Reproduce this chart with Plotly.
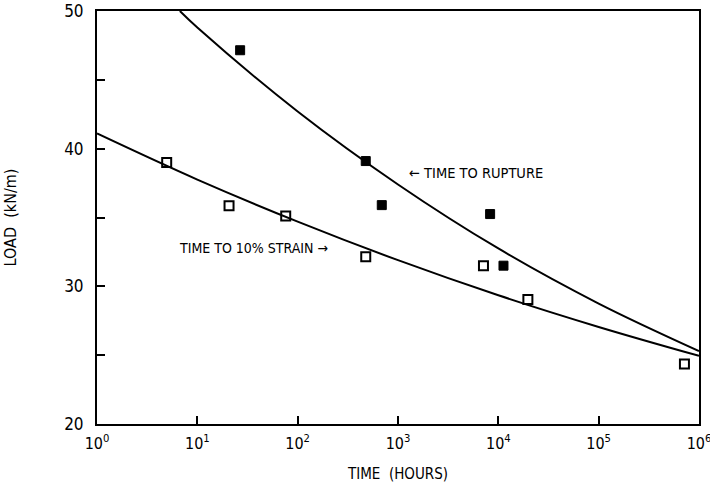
import plotly.graph_objects as go

# Creep test results: time (hours) vs. load (kN/m)
strain_time = [4.95, 20.7, 76, 477, 7110, 19700, 716000]
strain_load = [39.0, 35.85, 35.1, 32.15, 31.5, 29.05, 24.35]

rupture_time = [26.7, 477, 689, 8280, 11250]
rupture_load = [47.15, 39.1, 35.9, 35.25, 31.5]

# Fitted trend lines, sampled at each decade
strain_fit_time = [1, 10, 100, 1000, 1e4, 1e5, 1e6]
strain_fit_load = [41.1, 37.75, 34.7, 31.9, 29.35, 27.05, 24.95]

rupture_fit_time = [6.7, 10, 100, 1000, 1e4, 1e5, 1e6]
rupture_fit_load = [50.0, 48.8, 42.7, 37.4, 32.75, 28.75, 25.3]

x_tickvals = [1, 10, 100, 1000, 1e4, 1e5, 1e6]
x_ticktext = ["10<sup>%d</sup>" % k for k in range(7)]
y_tickvals = [20, 30, 40, 50]

FONT = "DejaVu Sans Condensed, Liberation Sans Narrow, Arial Narrow, sans-serif"

fig = go.Figure()

fig.add_trace(go.Scatter(
    x=strain_fit_time, y=strain_fit_load, mode="lines",
    line=dict(color="black", width=2, shape="spline"), hoverinfo="skip"))
fig.add_trace(go.Scatter(
    x=rupture_fit_time, y=rupture_fit_load, mode="lines",
    line=dict(color="black", width=2, shape="spline"), hoverinfo="skip"))

fig.add_trace(go.Scatter(
    x=strain_time, y=strain_load, mode="markers",
    marker=dict(symbol="square-open", size=9, color="black",
                line=dict(width=2, color="black"))))
fig.add_trace(go.Scatter(
    x=rupture_time, y=rupture_load, mode="markers",
    marker=dict(symbol="square", size=9, color="black",
                line=dict(width=1, color="black"))))

fig.add_annotation(x=3.09, y=38.25, xref="x", yref="y",
                   text="\u2190 TIME TO RUPTURE", showarrow=False,
                   xanchor="left", font=dict(family=FONT, size=14.5, color="black"))
fig.add_annotation(x=0.80, y=32.8, xref="x", yref="y",
                   text="TIME TO 10% STRAIN \u2192", showarrow=False,
                   xanchor="left", font=dict(family=FONT, size=14, color="black"))

fig.update_xaxes(
    type="log", range=[0, 6], automargin=False,
    tickvals=x_tickvals, ticktext=x_ticktext,
    ticklabeloverflow="allow",
    ticks="inside", ticklen=8, tickwidth=2, tickcolor="black",
    showline=True, linewidth=2, linecolor="black", mirror=True,
    showgrid=False, zeroline=False,
    tickfont=dict(family=FONT, size=16, color="black"),
    ticklabelstandoff=4,
    title=dict(text="TIME  (HOURS)", standoff=16,
               font=dict(family=FONT, size=15, color="black")),
)
fig.update_yaxes(
    range=[20, 50], tickvals=y_tickvals, automargin=False,
    ticks="inside", ticklen=8, tickwidth=2, tickcolor="black",
    minor=dict(dtick=5, tick0=0, ticks="inside", ticklen=8, tickwidth=2,
               tickcolor="black", showgrid=False),
    showline=True, linewidth=2, linecolor="black", mirror=True,
    showgrid=False, zeroline=False,
    tickfont=dict(family=FONT, size=17, color="black"),
    ticklabelstandoff=8,
    title=dict(text="LOAD  (kN/m)", standoff=44,
               font=dict(family=FONT, size=16, color="black")),
)

fig.update_layout(
    width=710, height=494,
    margin=dict(l=97, r=11, t=11, b=70),
    paper_bgcolor="white", plot_bgcolor="white",
    showlegend=False,
)

fig.write_html("out.html")
